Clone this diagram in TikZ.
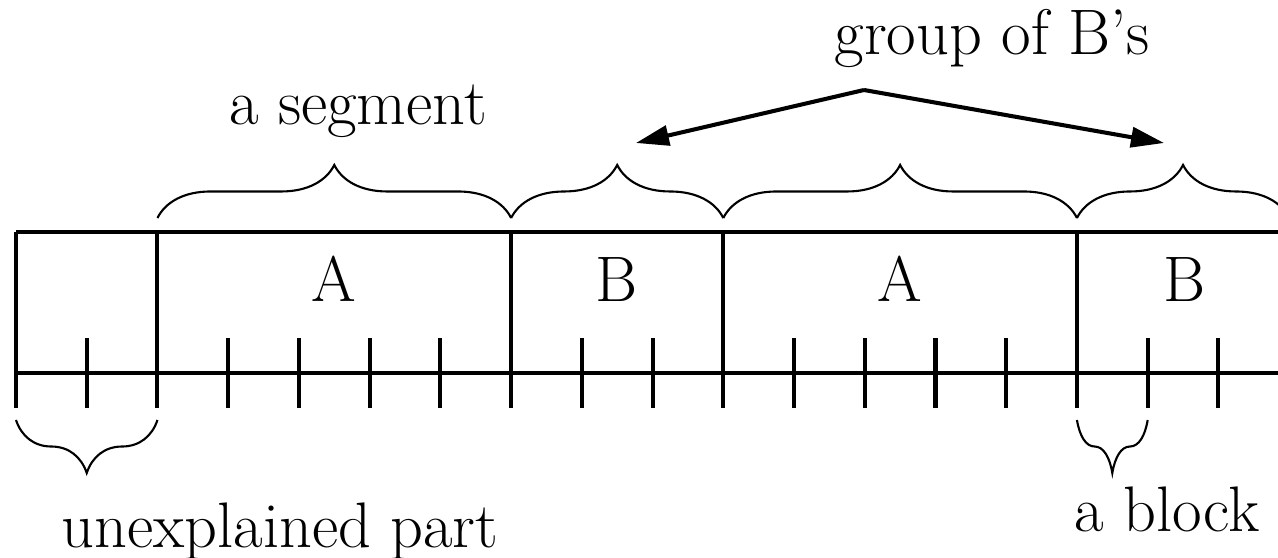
\documentclass[tikz,border=0pt]{standalone}
\usetikzlibrary{decorations.pathreplacing,arrows.meta}
\begin{document}
\begin{tikzpicture}[x=0.01cm,y=-0.01cm,
  mainline/.style={line width=1.15pt},
  bracepath/.style={line width=0.6pt,decorate,decoration={brace,amplitude=0.53cm}},
  lbl/.style={font=\fontsize{18.3}{22}\selectfont,inner sep=0pt,anchor=base},
  arr/.style={line width=1.15pt,-{Triangle[length=0.33cm,width=0.2cm]}}]
\useasboundingbox (0,0) rectangle (1278,558);
\clip (0,0) rectangle (1278,558);
% tick positions
\foreach \i in {0,...,18}{\coordinate (t\i) at ({16+70.73*\i},373);}
% horizontal lines
\draw[mainline] (t0 |- 0,232) -- (1310,232);
\draw[mainline] (t0) -- (1310,373);
% segment borders
\foreach \i in {0,2,7,10,15,18}{\draw[mainline] (t\i |- 0,232) -- (t\i |- 0,408);}
% block ticks
\foreach \i in {1,3,4,5,6,8,9,11,12,13,14,16,17}{\draw[mainline] (t\i |- 0,338) -- (t\i |- 0,408);}
% segment labels
\node[lbl] (A1) at (334,302) {A};
\node[lbl] (B1) at (617,302) {B};
\node[lbl] (A2) at (900,302) {A};
\node[lbl] (B2) at (1185,302) {B};
% top braces
\draw[bracepath] (t2 |- 0,218) -- (t7 |- 0,218);
\draw[bracepath] (t7 |- 0,218) -- (t10 |- 0,218);
\draw[bracepath] (t10 |- 0,218) -- (t15 |- 0,218);
\draw[bracepath] (t15 |- 0,218) -- (t18 |- 0,218);
% bottom braces
\draw[bracepath] (t2 |- 0,420) -- (t0 |- 0,420);
\draw[bracepath] (t16 |- 0,420) -- (t15 |- 0,420);
% texts
\node[lbl] (seg) at (358,125) {a segment};
\node[lbl] (grp) at (992,55) {group of B's};
\node[lbl] (unex) at (280,548) {unexplained part};
\node[lbl] (blk) at (1167,532) {a block};
% arrows
\coordinate (apex) at (864,90);
\coordinate (tipL) at (636,143);
\coordinate (tipR) at (1164,143);
\draw[arr] (apex) -- (tipL);
\draw[arr] (apex) -- (tipR);
\end{tikzpicture}
\end{document}
